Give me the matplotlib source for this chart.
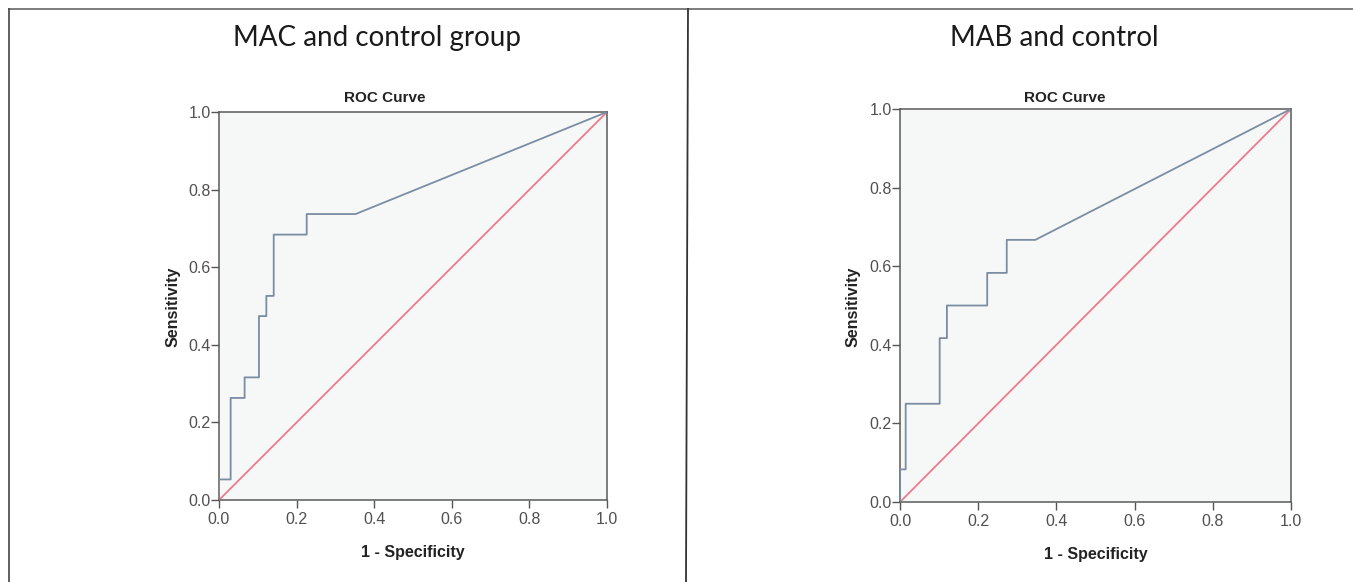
import matplotlib
matplotlib.use('Agg')
import matplotlib.pyplot as plt
from matplotlib.lines import Line2D
import numpy as np

# ROC points (1 - specificity, sensitivity)
mac_fpr = [0.0, 0.0, 0.030, 0.030, 0.066, 0.066, 0.103, 0.103, 0.122, 0.122, 0.141, 0.141, 0.226, 0.226, 0.352, 1.0]
mac_tpr = [0.0, 0.053, 0.053, 0.263, 0.263, 0.316, 0.316, 0.474, 0.474, 0.526, 0.526, 0.684, 0.684, 0.737, 0.737, 1.0]

mab_fpr = [0.0, 0.0, 0.0145, 0.0145, 0.1015, 0.1015, 0.120, 0.120, 0.223, 0.223, 0.273, 0.273, 0.346, 1.0]
mab_tpr = [0.0, 0.083, 0.083, 0.250, 0.250, 0.417, 0.417, 0.500, 0.500, 0.583, 0.583, 0.667, 0.667, 1.0]

panel_titles = ['MAC and control group', 'MAB and control']
tick_vals = [0.0, 0.2, 0.4, 0.6, 0.8, 1.0]
tick_labels = ['0.0', '0.2', '0.4', '0.6', '0.8', '1.0']

W, H = 1353, 582
fig = plt.figure(figsize=(W / 100, H / 100), dpi=100)
fig.patch.set_facecolor('white')

def px(x0, y0, x1, y1):
    # pixel box (left, top, right, bottom) -> figure fraction rect
    return [x0 / W, 1 - y1 / H, (x1 - x0) / W, (y1 - y0) / H]

panels = [
    dict(box=(219, 112, 607, 500), fpr=mac_fpr, tpr=mac_tpr, title=panel_titles[0],
         title_x=377, roc_x=385, ylab_x=173),
    dict(box=(900, 109, 1291, 502), fpr=mab_fpr, tpr=mab_tpr, title=panel_titles[1],
         title_x=1054, roc_x=1065, ylab_x=853),
]

arial = ['Liberation Sans', 'DejaVu Sans']

for p in panels:
    ax = fig.add_axes(px(*p['box']))
    ax.set_facecolor('#f6f8f8')
    ax.plot([0, 1], [0, 1], color='#f07a8a', lw=1.3, zorder=2)
    ax.plot(p['fpr'], p['tpr'], color='#7b8da3', lw=1.3, zorder=3)
    ax.set_xlim(0, 1)
    ax.set_ylim(0, 1)
    ax.set_xticks(tick_vals)
    ax.set_yticks(tick_vals)
    ax.set_xticklabels(tick_labels, family=arial, fontsize=11.5, color='#505050')
    ax.set_yticklabels(tick_labels, family=arial, fontsize=11.5, color='#505050')
    ax.tick_params(direction='out', length=6, width=1, color='#555555')
    ax.tick_params(axis='x', pad=3)
    ax.tick_params(axis='y', pad=0)
    for s in ax.spines.values():
        s.set_color('#5a5a5a')
        s.set_linewidth(1.1)
    ax.set_xlabel('1 - Specificity', family=arial, fontweight='bold', fontsize=11.5, color='#222222')
    ax.xaxis.set_label_coords(0.5, -0.115)
    fig.text(p['ylab_x'] / W, 1 - 307 / H, 'Sensitivity', family=arial, fontweight='bold',
             fontsize=11.5, color='#222222', rotation=90, ha='center', va='center')
    fig.text(p['roc_x'] / W, 1 - 98 / H, 'ROC Curve', family=arial, fontweight='bold',
             fontsize=11, color='#222222', ha='center', va='center')
    fig.text(p['title_x'] / W, 1 - 38 / H, p['title'], family=['Lato', 'DejaVu Sans'],
             fontsize=20, color='#1a1a1a', ha='center', va='center')

# scanned frame lines
fig.add_artist(Line2D([9 / W, 1], [1 - 9 / H, 1 - 9 / H], color='#666666', lw=1.2))
fig.add_artist(Line2D([9 / W, 9 / W], [0, 1 - 9 / H], color='#444444', lw=1.2))
fig.add_artist(Line2D([688 / W, 686 / W], [1 - 9 / H, 0], color='#333333', lw=1.3))

fig.savefig('out.png', dpi=100)
